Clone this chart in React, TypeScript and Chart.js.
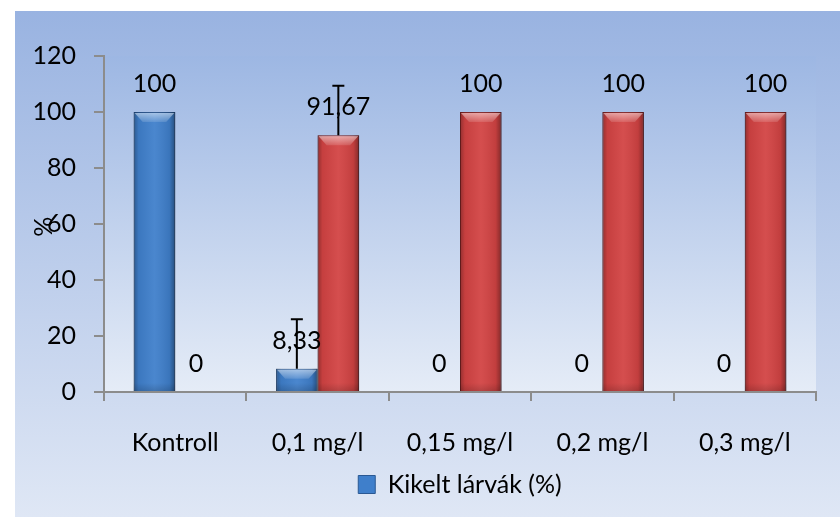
import React, { useEffect, useRef } from "react";
import { Chart, registerables } from "chart.js";

Chart.register(...registerables);

const categories = ["Kontroll", "0,1 mg/l", "0,15 mg/l", "0,2 mg/l", "0,3 mg/l"];
const kikeltValues = [100, 8.33, 0, 0, 0];
const nemKikeltValues = [0, 91.67, 100, 100, 100];
const kikeltErrors = [0, 17.68, 0, 0, 0];
const nemKikeltErrors = [0, 17.68, 0, 0, 0];
const yTicks = [0, 20, 40, 60, 80, 100, 120];
const seriesNames = ["Kikelt lárvák (%)", "Nem kikelt lárvák (%)"];
const yTitle = "%";

const FONT = "Lato";
const FS = 25;

const fmt = (v: number) => String(v).replace(".", ",");

const bgPlugin = {
  id: "bgPlugin",
  beforeDraw(chart: any) {
    const { ctx, width, height, chartArea } = chart;
    ctx.save();
    ctx.fillStyle = "#ffffff";
    ctx.fillRect(0, 0, width, height);
    const g = ctx.createLinearGradient(0, 11, 0, height);
    g.addColorStop(0, "#99b3e1");
    g.addColorStop(1, "#dfe7f5");
    ctx.fillStyle = g;
    ctx.fillRect(15, 11, width - 15, height - 11);
    const g2 = ctx.createLinearGradient(0, chartArea.top, 0, chartArea.bottom);
    g2.addColorStop(0, "#9db7e3");
    g2.addColorStop(1, "#e5ecf7");
    ctx.fillStyle = g2;
    ctx.fillRect(chartArea.left, chartArea.top, chartArea.right - chartArea.left, chartArea.bottom - chartArea.top);
    ctx.restore();
  },
  beforeDatasetsDraw(chart: any) {
    const ctx = chart.ctx;
    ctx.save();
    ctx.shadowColor = "rgba(40,50,80,0.25)";
    ctx.shadowBlur = 6;
    ctx.shadowOffsetX = 3;
    ctx.shadowOffsetY = 0;
  },
  afterDatasetsDraw(chart: any) {
    const ctx = chart.ctx;
    ctx.restore();
    ctx.save();
    chart.data.datasets.forEach((ds: any, di: number) => {
      const meta = chart.getDatasetMeta(di);
      meta.data.forEach((el: any) => {
        const p = el.getProps(["x", "y", "base", "width"], true);
        const h = p.base - p.y;
        if (h < 2) return;
        const l = p.x - p.width / 2;
        const r = p.x + p.width / 2;
        const g = ctx.createLinearGradient(l, 0, r, 0);
        g.addColorStop(0, "rgba(0,0,0,0.30)");
        g.addColorStop(0.12, "rgba(0,0,0,0.06)");
        g.addColorStop(0.5, "rgba(255,255,255,0.06)");
        g.addColorStop(0.86, "rgba(0,0,0,0.08)");
        g.addColorStop(1, "rgba(0,0,0,0.38)");
        ctx.fillStyle = g;
        ctx.fillRect(l, p.y, p.width, h);
        const th = Math.min(10, h);
        ctx.beginPath();
        ctx.moveTo(l + 1, p.y + 1);
        ctx.lineTo(r - 1, p.y + 1);
        ctx.lineTo(r - 9, p.y + th);
        ctx.lineTo(l + 9, p.y + th);
        ctx.closePath();
        const tg = ctx.createLinearGradient(0, p.y, 0, p.y + th);
        tg.addColorStop(0, "rgba(255,255,255,0.55)");
        tg.addColorStop(1, "rgba(255,255,255,0.12)");
        ctx.fillStyle = tg;
        ctx.fill();
        const bg = ctx.createLinearGradient(0, p.base - 8, 0, p.base);
        bg.addColorStop(0, "rgba(0,0,0,0)");
        bg.addColorStop(1, "rgba(0,0,0,0.15)");
        ctx.fillStyle = bg;
        ctx.fillRect(l, p.base - 8, p.width, 8);
      });
    });
    ctx.restore();
  },
  afterDraw(chart: any) {
    const { ctx } = chart;
    const yScale = chart.scales.y;
    const errs = [kikeltErrors, nemKikeltErrors];
    ctx.save();
    // error bars
    ctx.strokeStyle = "#000";
    ctx.lineWidth = 2;
    chart.data.datasets.forEach((ds: any, di: number) => {
      const meta = chart.getDatasetMeta(di);
      meta.data.forEach((el: any, i: number) => {
        const e = errs[di][i];
        if (!e) return;
        const p = el.getProps(["x", "y"], true);
        const yTop = yScale.getPixelForValue(ds.data[i] + e);
        ctx.beginPath();
        ctx.moveTo(p.x, p.y);
        ctx.lineTo(p.x, yTop);
        ctx.moveTo(p.x - 6, yTop);
        ctx.lineTo(p.x + 6, yTop);
        ctx.stroke();
      });
    });
    // data labels
    ctx.fillStyle = "#000";
    ctx.font = `${FS}px ${FONT}`;
    ctx.textAlign = "center";
    ctx.textBaseline = "middle";
    chart.data.datasets.forEach((ds: any, di: number) => {
      const meta = chart.getDatasetMeta(di);
      meta.data.forEach((el: any, i: number) => {
        const p = el.getProps(["x", "y"], true);
        ctx.fillText(fmt(ds.data[i]), p.x, p.y - 28);
      });
    });
    // y title
    ctx.save();
    ctx.translate(44, yScale.getPixelForValue(59));
    ctx.rotate(-Math.PI / 2);
    ctx.fillText(yTitle, 0, 0);
    ctx.restore();
    ctx.restore();
  },
};

export default function App() {
  const ref = useRef<HTMLCanvasElement | null>(null);
  useEffect(() => {
    if (!ref.current) return;
    Chart.defaults.font.family = FONT;
    Chart.defaults.color = "#000";
    const chart = new Chart(ref.current, {
      type: "bar",
      data: {
        labels: categories,
        datasets: [
          {
            label: seriesNames[0],
            data: kikeltValues,
            backgroundColor: "#3f7fcb",
            borderColor: "#2a5893",
            borderWidth: 1,
            categoryPercentage: 0.583,
            barPercentage: 1,
          },
          {
            label: seriesNames[1],
            data: nemKikeltValues,
            backgroundColor: "#d24343",
            borderColor: "#8a2626",
            borderWidth: 1,
            categoryPercentage: 0.583,
            barPercentage: 1,
          },
        ],
      },
      options: {
        animation: false,
        responsive: false,
        maintainAspectRatio: false,
        layout: { padding: { left: 15, right: 24, top: 56, bottom: 10 } },
        plugins: {
          tooltip: { enabled: false },
          legend: {
            position: "bottom",
            fullSize: false,
            labels: {
              filter: (item: any) => item.datasetIndex === 0,
              boxWidth: 17,
              boxHeight: 18,
              font: { size: FS, family: FONT },
              color: "#000",
              padding: 10,
            },
          },
        },
        scales: {
          x: {
            grid: {
              offset: true,
              drawOnChartArea: false,
              drawTicks: true,
              tickLength: 9,
              color: "#8c8c8c",
              lineWidth: 2,
            },
            border: { color: "#8c8c8c", width: 2 },
            ticks: { font: { size: FS, family: FONT }, color: "#000", padding: 27, maxRotation: 0 },
            afterFit: (s: any) => {
              s.height = 70;
            },
          },
          y: {
            min: 0,
            max: 120,
            afterBuildTicks: (s: any) => {
              s.ticks = yTicks.map((v) => ({ value: v }));
            },
            grid: {
              drawOnChartArea: false,
              drawTicks: true,
              tickLength: 10,
              color: "#8c8c8c",
              lineWidth: 2,
            },
            border: { color: "#8c8c8c", width: 2 },
            ticks: { font: { size: FS, family: FONT }, color: "#000", padding: 18 },
            afterFit: (s: any) => {
              s.width = 89;
            },
          },
        },
      },
      plugins: [bgPlugin],
    });
    return () => chart.destroy();
  }, []);
  return (
    <div style={{ position: "absolute", left: 0, top: 0, width: 840, height: 517 }}>
      <canvas ref={ref} width={840} height={517} style={{ width: 840, height: 517, display: "block" }} />
    </div>
  );
}
